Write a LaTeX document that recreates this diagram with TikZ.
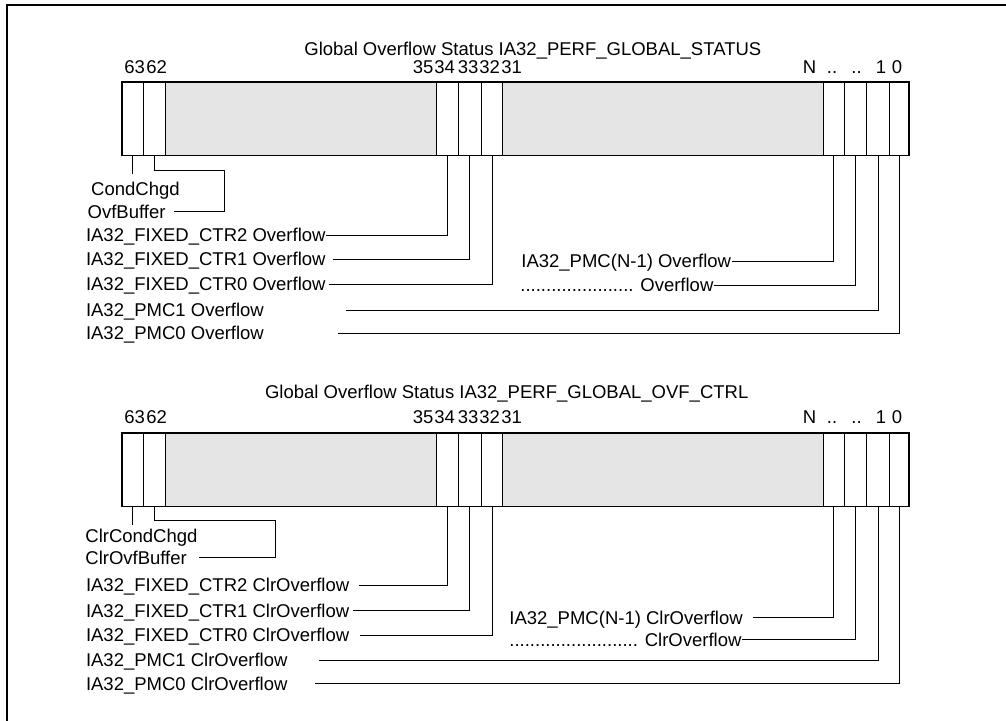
\documentclass[tikz,border=0pt]{standalone}
\usepackage{fontspec}
\setmainfont{Liberation Sans}
\usepackage{tikz}
\usetikzlibrary{positioning}

\begin{document}
\begin{tikzpicture}[x=0.5pt, y=-0.5pt,
    every node/.style={font=\fontsize{9.25}{11}\selectfont},
    txt/.style={anchor=base west, inner sep=0pt, text height=6.62pt, text depth=0pt},
    bitcell/.style={draw, line width=0.4pt, anchor=north west, inner sep=0pt, outer sep=0pt, minimum height=36.75pt},
    field/.style={bitcell, fill=gray!20},
    regbox/.style={draw, line width=0.7pt},
    lead/.style={draw, line width=0.45pt},
    frame/.style={draw, line width=0.8pt}]
    \useasboundingbox (0,0) rectangle (1006,721);
    \draw[frame] (6.7,5) rectangle (1030,760);

    \foreach \r/\y in {a/82.2, b/432.8} {
        \node[field, minimum width=135.7pt] (\r f1) at (165.3,\y) {};
        \node[field, minimum width=160.15pt] (\r f2) at (502.7,\y) {};
        \foreach \n/\x/\w in {63/122/10.85, 62/143.7/10.8, 34/436.7/10.8, 33/458.3/11.5, 32/481.3/10.7, N/823/10.85, d/844.7/11, 1/866.7/11.3, 0/889.3/9.85}
            \node[bitcell, minimum width=\w pt] (\r\n) at (\x,\y) {};
        \draw[regbox] (\r63.north west) rectangle (\r0.south east);
    }

    \foreach \r/\y in {a/73.5, b/423.3} {
        \foreach \t/\x in {63/124, 62/146, 35/412.5, 34/434, 33/457.5, 32/479, 31/501, N/802.5, 1/875.5, 0/891.5}
            \node[txt] (\r n\t) at (\x,\y) {\t};
        \node[txt] (\r dd1) at (826.5,\y) {..};
        \node[txt] (\r dd2) at (851,\y) {..};
    }

    \node[txt] (title1) at (304,56) {Global Overflow Status IA32\_PERF\_GLOBAL\_STATUS};
    \node[txt] (condchgd) at (90.8,195.7) {CondChgd};
    \node[txt] (ovfbuf) at (87.3,218.3) {OvfBuffer};
    \node[txt] (ctr2) at (85.6,241.7) {IA32\_FIXED\_CTR2 Overflow};
    \node[txt] (ctr1) at (85.6,265.7) {IA32\_FIXED\_CTR1 Overflow};
    \node[txt] (ctr0) at (85.6,290.7) {IA32\_FIXED\_CTR0 Overflow};
    \node[txt] (pmc1) at (85.6,316.7) {IA32\_PMC1 Overflow};
    \node[txt] (pmc0) at (85.6,340) {IA32\_PMC0 Overflow};
    \node[txt] (pmcn) at (521,268) {IA32\_PMC(N-1) Overflow};
    \node[txt] (pmcd) at (520,291.6) {...................... Overflow};

    \draw[lead] (a63.south) -- ++(0,18.3);
    \draw[lead] (a62.south) |- (224,170.7) |- ([xshift=3.85pt]ovfbuf.east);
    \draw[lead] (ctr2.east) -| (a34.south);
    \draw[lead, shorten <=3.3pt] (ctr1.east) -| (a33.south);
    \draw[lead, shorten <=1.3pt] (ctr0.east) -| (a32.south);
    \draw[lead, shorten <=41pt] (pmc1.east) -| (a1.south);
    \draw[lead, shorten <=36.9pt] (pmc0.east) -| (a0.south);
    \draw[lead] (pmcn.east) -| (aN.south);
    \draw[lead] (pmcd.east) -| (ad.south);

    \node[txt] (title2) at (264.7,398.3) {Global Overflow Status IA32\_PERF\_GLOBAL\_OVF\_CTRL};
    \node[txt] (clrcond) at (85,542.7) {ClrCondChgd};
    \node[txt] (clrovf) at (85,564) {ClrOvfBuffer};
    \node[txt] (cctr2) at (85.6,591.7) {IA32\_FIXED\_CTR2 ClrOverflow};
    \node[txt] (cctr1) at (85.6,617.3) {IA32\_FIXED\_CTR1 ClrOverflow};
    \node[txt] (cctr0) at (85.6,641.7) {IA32\_FIXED\_CTR0 ClrOverflow};
    \node[txt] (cpmc1) at (85.6,666.7) {IA32\_PMC1 ClrOverflow};
    \node[txt] (cpmc0) at (85.6,690) {IA32\_PMC0 ClrOverflow};
    \node[txt] (cpmcn) at (509,624) {IA32\_PMC(N-1) ClrOverflow};
    \node[txt] (cpmcd) at (509,646) {......................... ClrOverflow};

    \draw[lead] (b63.south) -- ++(0,18.7);
    \draw[lead] (b62.south) |- (275,520.7) |- ([xshift=5.75pt]clrovf.east);
    \draw[lead, shorten <=4.75pt] (cctr2.east) -| (b34.south);
    \draw[lead, shorten <=1.5pt] (cctr1.east) -| (b33.south);
    \draw[lead, shorten <=5.25pt] (cctr0.east) -| (b32.south);
    \draw[lead, shorten <=15.6pt] (cpmc1.east) -| (b1.south);
    \draw[lead, shorten <=13.5pt] (cpmc0.east) -| (b0.south);
    \draw[lead, shorten <=4.7pt] (cpmcn.east) -| (bN.south);
    \draw[lead] (cpmcd.east) -| (bd.south);
\end{tikzpicture}
\end{document}
